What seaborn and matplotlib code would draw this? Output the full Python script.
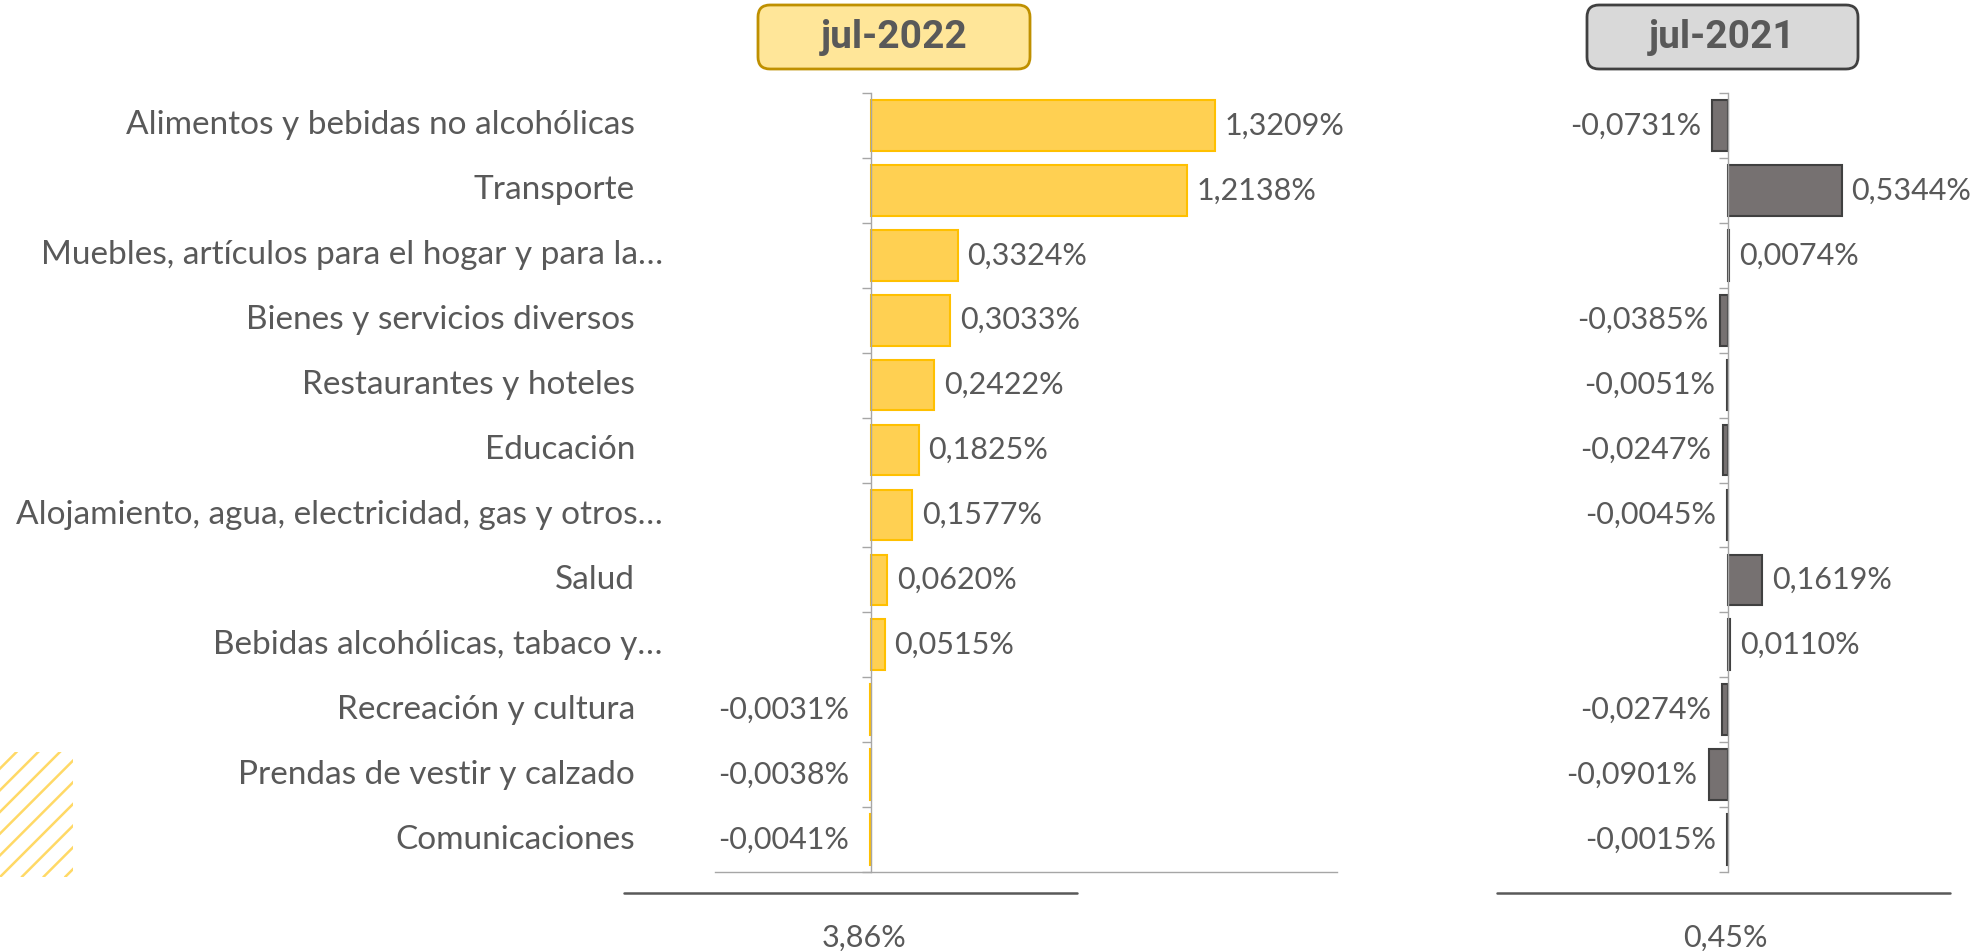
import numpy as np
import pandas as pd
import matplotlib
matplotlib.use("Agg")
import matplotlib.pyplot as plt
import matplotlib.transforms as mtransforms
from matplotlib.patches import FancyBboxPatch, Rectangle
from matplotlib.lines import Line2D
import seaborn as sns

# Datos (variación mensual por división de gasto)
categorias = [
    "Alimentos y bebidas no alcohólicas",
    "Transporte",
    "Muebles, artículos para el hogar y para la…",
    "Bienes y servicios diversos",
    "Restaurantes y hoteles",
    "Educación",
    "Alojamiento, agua, electricidad, gas y otros…",
    "Salud",
    "Bebidas alcohólicas, tabaco y…",
    "Recreación y cultura",
    "Prendas de vestir y calzado",
    "Comunicaciones",
]
var_2022 = [1.3209, 1.2138, 0.3324, 0.3033, 0.2422, 0.1825, 0.1577, 0.0620, 0.0515, -0.0031, -0.0038, -0.0041]
var_2021 = [-0.0731, 0.5344, 0.0074, -0.0385, -0.0051, -0.0247, -0.0045, 0.1619, 0.0110, -0.0274, -0.0901, -0.0015]
periodos = ["jul-2022", "jul-2021"]
totales = ["3,86%", "0,45%"]

sns.set_style("white")
plt.rcParams["font.family"] = ["Lato", "DejaVu Sans"]

GRIS_TXT = "#595959"
EJE = "#A6A6A6"
FS = 22

fig = plt.figure(figsize=(19.83, 9.51), dpi=100)
H = 951

ax1 = fig.add_axes([715 / 1983, 1 - 872 / H, 622 / 1983, 779 / H])
ax2 = fig.add_axes([1600 / 1983, 1 - 872 / H, 350 / 1983, 779 / H])

df22 = pd.DataFrame({"cat": categorias, "v": var_2022})
df21 = pd.DataFrame({"cat": categorias, "v": var_2021})

sns.barplot(data=df22, x="v", y="cat", ax=ax1, orient="h", color="#FFD052",
            edgecolor="#FFC000", linewidth=1.5, width=0.78, saturation=1)
sns.barplot(data=df21, x="v", y="cat", ax=ax2, orient="h", color="#767171",
            edgecolor="#404040", linewidth=1.5, width=0.78, saturation=1)

ax1.set_xlim(-0.6, 1.79)
ax2.set_xlim(-0.6, 1.043)


def fmt(v):
    return f"{v:.4f}".replace(".", ",") + "%"


for ax, vals, neg_off in [(ax1, var_2022, 15), (ax2, var_2021, 8)]:
    ax.set_ylim(len(categorias) - 0.5, -0.5)
    ax.set_yticks(np.arange(-0.5, len(categorias), 1))
    ax.set_yticklabels([])
    ax.set_xticks([])
    ax.set_xlabel("")
    ax.set_ylabel("")
    ax.tick_params(axis="y", direction="out", length=6.5, width=1, color=EJE, left=True)
    for s in ["top", "right"]:
        ax.spines[s].set_visible(False)
    ax.spines["left"].set_color(EJE)
    ax.spines["left"].set_linewidth(1)
    ax.spines["left"].set_position(("data", 0))
    ax.spines["bottom"].set_color(EJE)
    ax.spines["bottom"].set_linewidth(1)
    for i, v in enumerate(vals):
        if v >= 0:
            ax.annotate(fmt(v), (v, i), xytext=(7, 0), textcoords="offset points",
                        ha="left", va="center", fontsize=FS, color=GRIS_TXT)
        else:
            ax.annotate(fmt(v), (v, i), xytext=(-neg_off, 0), textcoords="offset points",
                        ha="right", va="center", fontsize=FS, color=GRIS_TXT)

ax2.spines["bottom"].set_visible(False)

# Etiquetas de categoría
trans = mtransforms.blended_transform_factory(fig.transFigure, ax1.transData)
for i, c in enumerate(categorias):
    x = 663 if c.endswith("…") else 635
    fig.text(x / 1983, i, c, transform=trans, ha="right", va="center",
             fontsize=24, color=GRIS_TXT)

# Encabezados
inch = fig.dpi_scale_trans
for (x0, x1), per, fc, ec in [((758, 1030), periodos[0], "#FFE699", "#BF9000"),
                              ((1587, 1858), periodos[1], "#D9D9D9", "#404040")]:
    box = FancyBboxPatch((x0 / 100, (H - 69) / 100), (x1 - x0) / 100, 0.64,
                         boxstyle="round,pad=0,rounding_size=0.12",
                         transform=inch, facecolor=fc, edgecolor=ec, linewidth=2)
    fig.add_artist(box)
    fig.text((x0 + x1) / 2 / 1983, 1 - 38 / H, per, ha="center", va="center",
             fontsize=28, fontweight="bold", color=GRIS_TXT, family=["Roboto", "DejaVu Sans"])

# Totales
for (x0, x1), xc, tot in zip([(624, 1077), (1497, 1950)], [864, 1725], totales):
    fig.add_artist(Line2D([x0 / 100, x1 / 100], [(H - 893) / 100] * 2,
                          transform=inch, color=GRIS_TXT, linewidth=1.8))
    fig.text(xc / 1983, 1 - 938 / H, tot, ha="center", va="center",
             fontsize=FS, color=GRIS_TXT)

# Decoración rayada
clip = Rectangle((0, (H - 877) / 100), 0.73, 1.25, transform=inch)
for k in range(-8, 10):
    x0 = k * 0.217
    ln = Line2D([x0, x0 + 1.5], [(H - 877) / 100, (H - 877) / 100 + 1.5],
                transform=inch, color="#FFD966", linewidth=1.8)
    ln.set_clip_path(clip)
    fig.add_artist(ln)

fig.savefig("out.png", dpi=100)
